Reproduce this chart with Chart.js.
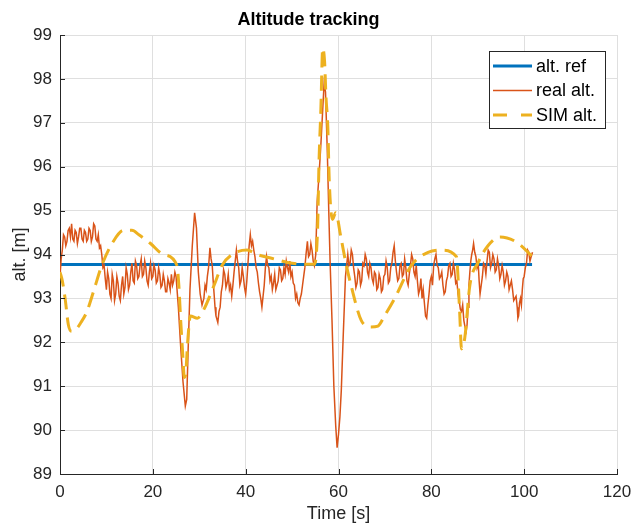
<!DOCTYPE html>
<html>
<head>
<meta charset="utf-8">
<script src="https://cdn.jsdelivr.net/npm/chart.js@4/dist/chart.umd.min.js"></script>
<style>
  html, body { margin: 0; padding: 0; background: #ffffff; }
  #wrap { width: 631px; height: 526px; }
</style>
</head>
<body>
<div id="wrap"><canvas id="c" width="631" height="526"></canvas></div>
<script>
// ---- data ----
const chartTitle = "Altitude tracking";
const xTitle = "Time [s]";
const yTitle = "alt. [m]";
const seriesNames = ["alt. ref", "real alt.", "SIM alt."];
const xTicks = [0, 20, 40, 60, 80, 100, 120];
const yTicks = [89, 90, 91, 92, 93, 94, 95, 96, 97, 98, 99];

const refTime = [0, 101.7];
const refAlt = [93.77, 93.77];

const realTime = [
  0, 0.25, 0.5, 0.75, 1, 1.25, 1.5, 1.75, 2, 2.25,
  2.5, 2.75, 3, 3.25, 3.5, 3.75, 4, 4.25, 4.5, 4.75,
  5, 5.25, 5.5, 5.75, 6, 6.25, 6.5, 6.75, 7, 7.25,
  7.5, 7.75, 8, 8.25, 8.5, 8.75, 9, 9.25, 9.5, 9.75,
  10, 10.25, 10.5, 10.75, 11, 11.25, 11.5, 11.75, 12, 12.25,
  12.5, 12.75, 13, 13.25, 13.5, 13.75, 14, 14.25, 14.5, 14.75,
  15, 15.25, 15.5, 15.75, 16, 16.25, 16.5, 16.75, 17, 17.25,
  17.5, 17.75, 18, 18.25, 18.5, 18.75, 19, 19.25, 19.5, 19.75,
  20, 20.25, 20.5, 20.75, 21, 21.25, 21.5, 21.75, 22, 22.25,
  22.5, 22.75, 23, 23.25, 23.5, 23.75, 24, 24.25, 24.5, 24.75,
  25, 25.5, 26, 26.5, 27, 27.3, 27.6, 28, 28.5, 29,
  29.4, 29.8, 30.2, 30.6, 31, 31.25, 31.5, 31.75, 32, 32.3,
  32.55, 32.8, 33, 33.2, 33.4, 33.6, 34, 34.25, 34.5, 34.75,
  35, 35.25, 35.5, 35.75, 36, 36.25, 36.5, 36.75, 37, 37.25,
  37.5, 37.75, 38, 38.25, 38.5, 38.75, 39, 39.25, 39.5, 39.75,
  40, 40.25, 40.5, 40.75, 41, 41.25, 41.5, 41.75, 42, 42.25,
  42.5, 42.75, 43, 43.25, 43.5, 43.75, 44, 44.25, 44.5, 44.75,
  45, 45.25, 45.5, 45.75, 46, 46.25, 46.5, 46.75, 47, 47.25,
  47.5, 47.75, 48, 48.25, 48.5, 48.75, 49, 49.25, 49.5, 49.75,
  50, 50.25, 50.5, 50.75, 51, 51.25, 51.5, 51.75, 52, 52.25,
  52.5, 52.75, 53, 53.3, 53.55, 53.8, 54.05, 54.3, 54.55, 54.8,
  55.1, 55.4, 55.8, 56.2, 56.6, 56.9, 57.2, 57.6, 57.9, 58.2,
  58.6, 59, 59.4, 59.7, 60, 60.3, 60.6, 61, 61.5, 62,
  62.25, 62.5, 62.75, 63, 63.25, 63.5, 63.75, 64, 64.25, 64.5,
  64.75, 65, 65.25, 65.5, 65.75, 66, 66.25, 66.5, 66.75, 67,
  67.25, 67.5, 67.75, 68, 68.25, 68.5, 68.75, 69, 69.25, 69.5,
  69.75, 70, 70.25, 70.5, 70.75, 71, 71.25, 71.5, 71.75, 72,
  72.25, 72.5, 72.75, 73, 73.25, 73.5, 73.75, 74, 74.25, 74.5,
  74.75, 75, 75.25, 75.5, 75.75, 76, 76.25, 76.5, 76.75, 77,
  77.25, 77.5, 77.75, 78, 78.25, 78.5, 78.75, 79, 79.25, 79.5,
  79.75, 80, 80.25, 80.5, 80.75, 81, 81.25, 81.5, 81.75, 82,
  82.25, 82.5, 82.75, 83, 83.25, 83.5, 83.75, 84, 84.25, 84.5,
  84.75, 85, 85.25, 85.5, 85.75, 86, 86.25, 86.5, 86.75, 87,
  87.25, 87.5, 87.7, 87.9, 88.1, 88.3, 88.5, 88.7, 88.9, 89.1,
  89.35, 89.6, 89.85, 90.1, 90.3, 90.5, 90.75, 91, 91.25, 91.5,
  91.75, 92, 92.25, 92.5, 92.75, 93, 93.25, 93.5, 93.75, 94,
  94.25, 94.5, 94.75, 95, 95.25, 95.5, 95.75, 96, 96.25, 96.5,
  96.75, 97, 97.25, 97.5, 97.75, 98, 98.25, 98.5, 98.65, 98.8,
  99, 99.2, 99.4, 99.6, 99.8, 100, 100.25, 100.5, 100.75, 101,
  101.25, 101.5, 101.8
];
const realAlt = [
  93.5, 93.9, 94.1, 94.45, 94.4, 94.2, 94.3, 94.55, 94.6, 94.4,
  94.7, 94.35, 94.3, 94.55, 94.5, 94.25, 94.4, 94.6, 94.6, 94.35,
  94.3, 94.55, 94.5, 94.3, 94.35, 94.6, 94.55, 94.3, 94.4, 94.7,
  94.65, 94.35, 94.3, 94.45, 94.15, 94.2, 94.0, 93.7, 93.75, 93.45,
  93.2, 93.6, 93.45, 93.1, 93.0, 93.55, 93.4, 92.95, 93.1, 93.5,
  93.35, 93.05, 92.95, 93.3, 93.5, 93.1, 93.25, 93.7, 93.55, 93.2,
  93.3, 93.6, 93.8, 93.4, 93.35, 93.85, 93.75, 93.45, 93.5, 93.75,
  93.9, 93.5, 93.55, 93.85, 93.7, 93.4, 93.3, 93.6, 93.8, 93.45,
  93.5, 93.75, 93.65, 93.35, 93.4, 93.7, 93.55, 93.25, 93.3, 93.55,
  93.4, 93.15, 93.15, 93.45, 93.35, 93.2, 93.55, 93.3, 93.4, 93.6,
  93.5, 92.8, 91.9, 91.1, 90.55, 90.7, 91.8, 93.2, 94.2, 94.95,
  94.6, 93.6, 93.1, 92.85, 93.0, 93.3, 93.2, 93.5, 93.7, 94.15,
  93.9, 93.75, 93.4, 93.1, 92.8, 92.6, 92.45, 92.7, 92.8, 93.15,
  93.3, 93.65, 93.55, 93.25, 93.35, 93.55, 93.2, 93.3, 93.05, 93.3,
  93.6, 93.85, 94.1, 93.85, 93.7, 93.3, 93.4, 93.7, 93.5, 93.25,
  93.1, 93.4, 93.8, 94.2, 94.45, 94.2, 94.3, 94.1, 93.95, 93.7,
  93.6, 93.35, 93.15, 93.0, 92.8, 93.05, 93.3, 93.7, 93.95, 93.75,
  93.7, 93.4, 93.5, 93.2, 93.35, 93.55, 93.2, 93.3, 93.4, 93.7,
  93.65, 93.4, 93.45, 93.7, 93.55, 93.85, 93.7, 93.6, 93.85, 93.5,
  93.6, 93.35, 93.3, 93.0, 93.1, 92.9, 92.85, 93.0, 93.1, 93.3,
  93.5, 93.7, 94.0, 94.3, 93.95, 94.0, 94.25, 94.1, 93.85, 93.75,
  94.0, 95.2, 95.8, 96.5, 97.3, 97.9, 97.7, 96.3, 95.0, 93.8,
  92.5, 91.0, 90.1, 89.6, 89.9, 90.3, 90.9, 92.1, 93.5, 94.0,
  93.75, 93.8, 94.1, 94.0, 93.7, 93.5, 93.25, 93.35, 93.65, 93.6,
  93.3, 93.4, 93.8, 93.75, 94.0, 93.9, 93.6, 93.5, 93.8, 93.7,
  93.45, 93.35, 93.6, 93.55, 93.2, 93.25, 93.55, 93.45, 93.15, 93.2,
  93.5, 93.55, 93.85, 93.7, 93.35, 93.4, 93.7, 93.8, 94.05, 94.2,
  93.85, 93.6, 93.4, 93.45, 93.75, 93.8, 93.5, 93.55, 93.9, 93.7,
  93.4, 93.3, 93.55, 93.75, 94.0, 93.9, 93.6, 93.5, 93.75, 93.4,
  93.1, 93.2, 93.45, 93.0, 93.2, 92.9, 92.6, 92.55, 92.85, 93.1,
  93.4, 93.5, 93.3, 93.75, 93.9, 94.0, 93.75, 93.7, 93.45, 93.5,
  93.6, 93.3, 93.1, 93.15, 93.4, 93.5, 93.75, 93.8, 93.5, 93.55,
  93.8, 93.65, 93.35, 93.4, 93.1, 92.95, 92.75, 92.7, 92.85, 92.5,
  92.35, 92.25, 92.4, 92.8, 93.3, 93.6, 93.85, 94.0, 94.1, 94.25,
  94.05, 93.95, 93.7, 93.8, 93.4, 93.1, 93.3, 93.5, 93.8, 93.75,
  93.55, 93.85, 94.1, 94.05, 93.7, 93.8, 94.0, 93.9, 93.6, 93.65,
  93.9, 93.75, 93.45, 93.55, 93.75, 93.6, 93.3, 93.4, 93.6, 93.5,
  93.2, 93.3, 93.4, 93.2, 92.95, 93.0, 93.05, 92.8, 92.55, 92.6,
  92.9, 93.0, 92.85, 93.2, 93.45, 93.5, 93.7, 93.8, 94.1, 94.05,
  93.85, 93.95, 94.05
];

const simTime = [
  0, 0.5, 1.1, 1.8, 2.5, 3.5, 4.5, 5.8, 7.2, 9, 11.5, 13.7, 15.5, 17, 19.5, 22.3, 25.2, 25.6, 26, 26.4,
  26.8, 27.1, 27.5, 28.1, 29.6, 31, 33.2, 34.9, 37.1, 40.3, 42.5, 46.1, 49, 52.6, 54.8, 55.5, 55.8, 56.2, 56.6, 57,
  57.3, 57.7, 58, 58.7, 59.4, 60.5, 61.6, 62.7, 64.9, 67, 68.5, 69.9, 72.1, 75.7, 79.3, 82.2, 85.4, 86.1, 86.5, 87.2,
  88.3, 90.1, 92.2, 94.8, 98.4, 101.6
];
const simAlt = [
  93.6, 93.4, 93.0, 92.4, 92.25, 92.3, 92.45, 92.7, 93.15, 93.75, 94.3, 94.55, 94.55, 94.45, 94.25, 94.0, 93.75, 93.3, 92.5, 91.8,
  91.2, 91.3, 92.0, 92.6, 92.55, 92.75, 93.3, 93.75, 94.0, 94.1, 94.0, 93.9, 93.82, 93.78, 93.78, 94.6, 96.1, 97.3, 98.7, 98.4,
  97.6, 96.9, 95.7, 94.8, 94.95, 94.4, 93.8, 93.3, 92.5, 92.35, 92.37, 92.6, 93.0, 93.75, 94.05, 94.1, 93.95, 92.7, 91.85, 92.1,
  93.3, 93.82, 94.2, 94.4, 94.28, 93.97
];

// ---- styling ----
const FONT = "'Liberation Sans', Arial, Helvetica, sans-serif";
const AXIS = '#262626';
const GRID = '#dfdfdf';
const BLUE = '#0072BD';
const ORANGE = '#D95319';
const YELLOW = '#EDB120';

function pairs(xs, ys) { return xs.map((x, i) => ({ x: x, y: ys[i] })); }

const innerTicks = {
  id: 'innerTicks',
  afterDraw(chart) {
    const { ctx, chartArea, scales } = chart;
    ctx.save();
    ctx.strokeStyle = AXIS;
    ctx.lineWidth = 1;
    ctx.beginPath();
    xTicks.forEach(v => {
      const px = Math.round(scales.x.getPixelForValue(v)) + 0.5;
      ctx.moveTo(px, chartArea.bottom);
      ctx.lineTo(px, chartArea.bottom - 5);
    });
    yTicks.forEach(v => {
      const py = Math.round(scales.y.getPixelForValue(v)) + 0.5;
      ctx.moveTo(chartArea.left, py);
      ctx.lineTo(chartArea.left + 5, py);
    });
    ctx.stroke();
    ctx.restore();
  }
};

const boxLegend = {
  id: 'boxLegend',
  afterDraw(chart) {
    const ctx = chart.ctx;
    const L = 489.5, T = 51.5, W = 116, H = 77;
    ctx.save();
    ctx.fillStyle = '#ffffff';
    ctx.fillRect(L, T, W, H);
    ctx.strokeStyle = AXIS;
    ctx.lineWidth = 1;
    ctx.strokeRect(L, T, W, H);
    const rows = [66, 90.5, 115];
    const x0 = 493, x1 = 532;
    ctx.strokeStyle = BLUE; ctx.lineWidth = 3;
    ctx.beginPath(); ctx.moveTo(x0, rows[0]); ctx.lineTo(x1, rows[0]); ctx.stroke();
    ctx.strokeStyle = ORANGE; ctx.lineWidth = 1.5;
    ctx.beginPath(); ctx.moveTo(x0, rows[1]); ctx.lineTo(x1, rows[1]); ctx.stroke();
    ctx.strokeStyle = YELLOW; ctx.lineWidth = 3;
    ctx.beginPath();
    ctx.moveTo(x0, rows[2]); ctx.lineTo(x0 + 14, rows[2]);
    ctx.moveTo(x1 - 11, rows[2]); ctx.lineTo(x1, rows[2]);
    ctx.stroke();
    ctx.fillStyle = '#000000';
    ctx.font = '18px ' + FONT;
    ctx.textBaseline = 'middle';
    ctx.textAlign = 'left';
    seriesNames.forEach((n, i) => ctx.fillText(n, 536, rows[i] + 1));
    ctx.restore();
  }
};

new Chart(document.getElementById('c'), {
  type: 'line',
  data: {
    datasets: [
      { label: seriesNames[0], data: pairs(refTime, refAlt), borderColor: BLUE, borderWidth: 3,
        pointRadius: 0, order: 3 },
      { label: seriesNames[1], data: pairs(realTime, realAlt), borderColor: ORANGE, borderWidth: 1.5,
        pointRadius: 0, order: 2 },
      { label: seriesNames[2], data: pairs(simTime, simAlt), borderColor: YELLOW, borderWidth: 3,
        borderDash: [15, 8], pointRadius: 0, cubicInterpolationMode: 'monotone', order: 1 }
    ]
  },
  options: {
    responsive: false,
    animation: false,
    devicePixelRatio: 1,
    layout: { padding: { left: 0, right: 14, top: 0, bottom: 0 } },
    plugins: {
      legend: { display: false },
      tooltip: { enabled: false },
      title: {
        display: true, text: chartTitle, color: '#000000',
        font: { family: FONT, size: 18, weight: 'bold' },
        padding: { top: 9, bottom: 4.4 }
      }
    },
    scales: {
      x: {
        type: 'linear', min: 0, max: 120,
        afterBuildTicks: s => { s.ticks = xTicks.map(v => ({ value: v })); },
        afterFit: s => { s.height = 52; s.paddingLeft = 0; s.paddingRight = 0; },
        grid: { color: GRID, drawTicks: false, lineWidth: 1 },
        border: { color: AXIS, width: 1 },
        ticks: { color: AXIS, font: { family: FONT, size: 17 }, padding: 8, maxRotation: 0, autoSkip: false },
        title: { display: true, text: xTitle, color: AXIS, font: { family: FONT, size: 18 }, padding: { top: 0, bottom: 1 } }
      },
      y: {
        type: 'linear', min: 89, max: 99,
        afterBuildTicks: s => { s.ticks = yTicks.map(v => ({ value: v })); },
        afterFit: s => { s.width = 60; },
        grid: { color: GRID, drawTicks: false, lineWidth: 1 },
        border: { color: AXIS, width: 1 },
        ticks: { color: AXIS, font: { family: FONT, size: 17 }, padding: 8, autoSkip: false },
        title: { display: true, text: yTitle, color: AXIS, font: { family: FONT, size: 18 }, padding: { top: 9, bottom: 0 } }
      }
    }
  },
  plugins: [innerTicks, boxLegend]
});
</script>
</body>
</html>
